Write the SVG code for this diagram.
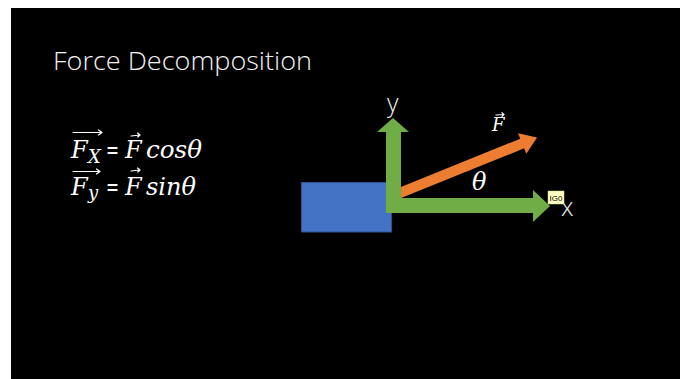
<svg xmlns="http://www.w3.org/2000/svg" width="686" height="379" viewBox="0 0 686 379">
<style>
.title{font-family:"Open Sans","Liberation Sans",sans-serif;font-weight:300;font-size:25px;fill:#F2F2F2}
.eq{font-family:"DejaVu Serif","Liberation Serif",serif;font-style:italic;font-size:24px;fill:#FFFFFF}
.sub{font-size:18px}
.op{font-style:normal}
.lbl{font-family:"Open Sans","Liberation Sans",sans-serif;font-weight:300;font-size:25px;fill:#F2F2F2}
.acc{fill:none;stroke:#FFFFFF;stroke-width:1.2;stroke-linecap:round;stroke-linejoin:round}
.green{fill:#70AD47}
.orange{fill:#ED7D31}
</style>
<rect x="0" y="0" width="686" height="379" fill="#FFFFFF"/>
<rect x="11" y="8" width="669" height="371" fill="#000000"/>
<g id="title">
<text class="title" x="53" y="70" textLength="259" lengthAdjust="spacingAndGlyphs">Force Decomposition</text>
</g>
<g id="equations">
<text class="eq" x="71" y="158">F</text>
<text class="eq sub" x="88" y="163">X</text>
<text class="eq op" x="106" y="158" textLength="13" lengthAdjust="spacingAndGlyphs">=</text>
<text class="eq" x="125" y="158">F</text>
<text class="eq" x="146" y="158" textLength="56" lengthAdjust="spacingAndGlyphs">cosθ</text>
<path class="acc" d="M73 132.5H102M98.5 130L102 132.5L98.5 135"/>
<path class="acc" d="M131 136L140 135M137.5 133L140 135L137.8 137"/>
<text class="eq" x="71" y="195">F</text>
<text class="eq sub" x="88" y="199">y</text>
<text class="eq op" x="106" y="195" textLength="13" lengthAdjust="spacingAndGlyphs">=</text>
<text class="eq" x="125" y="195">F</text>
<text class="eq" x="146" y="195" textLength="50" lengthAdjust="spacingAndGlyphs">sinθ</text>
<path class="acc" d="M73 171.5H100M96.5 169L100 171.5L96.5 174"/>
<path class="acc" d="M131 171L140 170M137.5 168L140 170L137.8 172"/>
</g>
<g id="block">
<rect x="301.5" y="182.5" width="90" height="49.5" fill="#4472C4" stroke="#2F528F" stroke-width="1"/>
</g>
<g id="connectors">
<g id="force-arrow" transform="translate(401,192.5) rotate(-22)">
<polygon class="orange" points="-14,-5.2 130.7,-5.2 130.7,-11 146.7,0 130.7,11 130.7,5.2 -14,5.2"/>
</g>
<polygon id="y-axis" class="green" points="386,213 386,132 377,132 393,118 409,132 401,132 401,213"/>
<polygon id="x-axis" class="green" points="386,198 533,198 533,190 550,206 533,222 533,213 386,213"/>
</g>
<g id="labels">
<text class="lbl" x="387" y="112">y</text>
<text class="lbl" x="561" y="216">x</text>
<text class="eq" x="472" y="190" style="font-size:24px">θ</text>
<text class="eq" x="492" y="131" style="font-size:18px">F</text>
<path class="acc" d="M496 115L504 114.5M501.8 112.6L504 114.5L502 116.4"/>
</g>
<g id="tag">
<rect x="548" y="191" width="16" height="13" fill="#FFFFC0" stroke="#D8D890" stroke-width="0.5"/>
<text x="556" y="201" text-anchor="middle" style="font-family:'Liberation Sans',sans-serif;font-size:8px;fill:#000000">IG0</text>
</g>
</svg>
